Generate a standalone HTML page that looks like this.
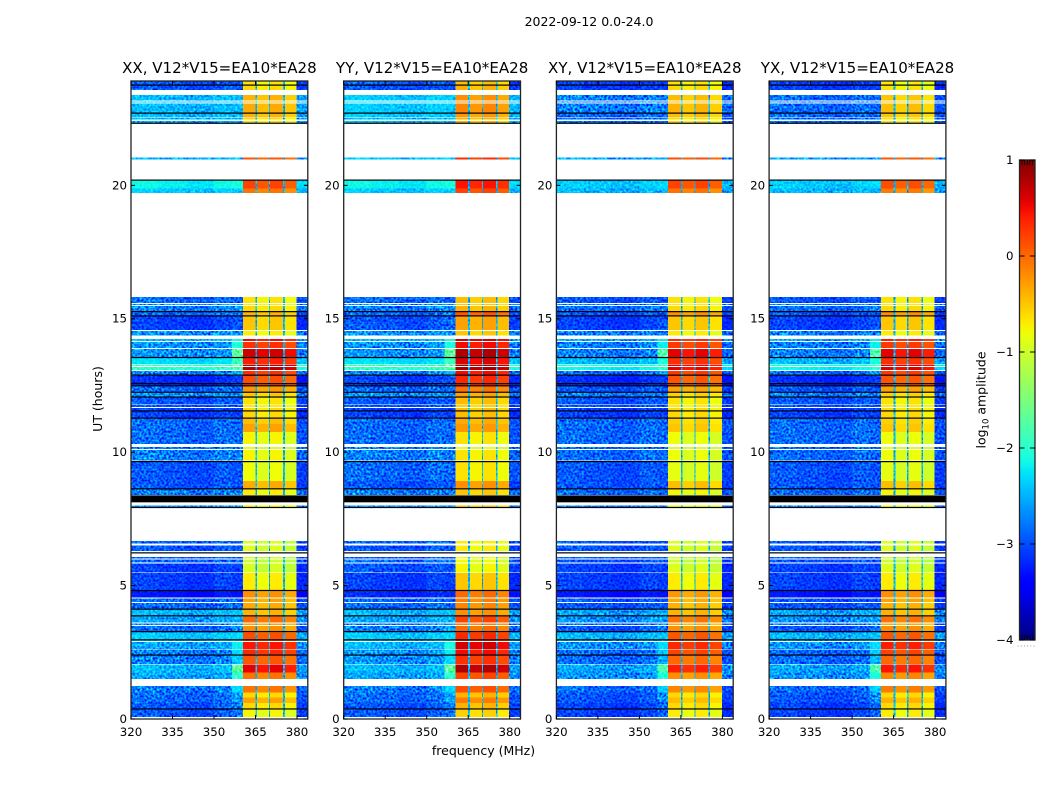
<!DOCTYPE html>
<html lang="en">
<head>
<meta charset="utf-8">
<title>Dynamic spectra 2022-09-12</title>
<style>
html,body{margin:0;padding:0;background:#fff;}
svg{display:block;}
text{font-family:"DejaVu Sans","Liberation Sans",sans-serif;fill:#000;}
</style>
</head>
<body>
<svg id="chart" xmlns="http://www.w3.org/2000/svg" width="1050" height="800" viewBox="0 0 1050 800">
  <defs>
    <filter id="speckle" filterUnits="userSpaceOnUse" x="0" y="0" width="1050" height="800" color-interpolation-filters="sRGB">
      <feTurbulence type="fractalNoise" baseFrequency="0.45" numOctaves="1" seed="7" result="n"/>
      <feColorMatrix in="n" type="matrix" values="2.2 0 0 0 -0.58  2.2 0 0 0 -0.58  2.2 0 0 0 -0.58  0 0 0 0 1" result="g"/>
      <feComposite in="g" in2="SourceAlpha" operator="in" result="gm"/>
      <feBlend in="gm" in2="SourceGraphic" mode="overlay"/>
    </filter>
    <linearGradient id="jet-gradient" x1="0" y1="1" x2="0" y2="0"></linearGradient>
  </defs>
  <text x="589" y="26" font-size="12.5" text-anchor="middle">2022-09-12 0.0-24.0</text>
  <text transform="translate(102,399) rotate(-90)" font-size="12.5" text-anchor="middle">UT (hours)</text>
  <text x="483.5" y="755" font-size="12.5" text-anchor="middle">frequency (MHz)</text>
  <text transform="translate(985.5,400) rotate(-90)" font-size="12.5" text-anchor="middle">log<tspan font-size="8.5" dy="3">10</tspan><tspan dy="-3"> amplitude</tspan></text>
  <g id="panels"></g>
  <g id="colorbar"></g>
</svg>
<script>
// ---------- data ----------
const polarisations = ["XX", "YY", "XY", "YX"];
const baselineLabel = ", V12*V15=EA10*EA28";
const xTicks = [320, 335, 350, 365, 380];
const yTicks = [0, 5, 10, 15, 20];
const colorbarTicks = [-4, -3, -2, -1, 0, 1];

// frequency channels (MHz) and what kind of spectrum region each belongs to
const channelStart = [320, 330, 340, 350, 356.5, 360.4, 365.0, 365.6, 369.9, 370.3, 375.0, 375.6, 379.8];
const channelEnd   = [330, 340, 350, 356.5, 360.4, 365.0, 365.6, 369.9, 370.3, 375.0, 375.6, 379.8, 383.9];
const channelKind  = ["left", "left", "left", "left", "wedge", "band", "gap", "band", "gap", "band", "gap", "band", "right"];
const channelOffset = [0.05, 0, -0.05, 0.05, 0, 0, -2.5, -0.1, -2.5, 0, -2.5, -0.15, -0.1];

// time rows (UT hours); anything not covered stays white (no data)
const rowStart = [0.08,0.38,0.6,0.8,1.0,1.5,1.74,2.07,2.38,2.63,2.92,3.25,3.52,3.61,3.86,4.12,4.38,4.55,4.82,5.5,5.86,6.01,6.29,6.58,7.93,8.4,8.63,8.92,9.68,10.12,10.31,10.76,11.06,11.28,11.69,11.79,12.07,12.25,12.49,12.86,13.08,13.22,13.31,13.53,13.9,14.16,14.37,14.58,15.09,15.27,15.51,15.59,19.71,19.88,20.96,22.33,22.47,22.55,22.71,23.1,23.18,23.57,23.76];
const rowEnd   = [0.38,0.6,0.8,1.0,1.23,1.74,2.04,2.38,2.6,2.89,3.25,3.48,3.58,3.86,4.12,4.35,4.52,4.82,5.47,5.83,5.98,6.08,6.5,6.68,8.0,8.63,8.92,9.63,10.09,10.19,10.76,11.06,11.28,11.66,11.76,12.07,12.25,12.49,12.86,13.05,13.19,13.28,13.53,13.87,14.13,14.24,14.55,15.09,15.27,15.48,15.56,15.81,19.88,20.18,21.05,22.42,22.52,22.71,23.07,23.15,23.39,23.76,23.91];

// brightening of the 356-360 MHz shoulder relative to the continuum, per row
const shoulderLift = [0.2,0.2,0.3,0.3,0.5,0.6,0.8,0.4,0.5,0.4,0.1,0.2,0.2,0.1,0.1,0,0,0,0,0,0,0,0,0,0,0,0,0,0,0,0,0,0,0,0,0,0,0,0.1,0.3,0.2,0.2,0.4,1,0.6,0.4,0,0.1,0.1,0.1,0,0,0,0.1,0,0,0,0,0,0,0,0,0];

// log10 amplitude of continuum (320-356 MHz) per row
const continuumXX = [-3,-3,-2.9,-2.9,-2.8,-2.6,-2.5,-2.8,-2.8,-2.6,-2.4,-2.9,-2.8,-2.6,-2.5,-2.9,-2.9,-3.3,-3.1,-3.1,-2.9,-3,-3,-2.9,-2.7,-2.8,-3,-3,-2.8,-2.8,-2.9,-2.9,-2.9,-3.1,-3,-3,-2.7,-2.9,-3.2,-2.8,-2,-1.9,-2.3,-2.7,-2.7,-2.5,-2.7,-3.1,-2.9,-2.8,-2.7,-2.9,-2.4,-2.2,-2.5,-2.6,-2.5,-2.5,-2.5,-2.4,-2.5,-3,-3];
const continuumYY = [-3,-3,-2.9,-2.9,-2.8,-2.6,-2.5,-2.7,-2.7,-2.5,-2.4,-2.8,-2.8,-2.6,-2.5,-2.9,-2.9,-3.2,-3.1,-3,-2.9,-3,-3,-2.9,-2.7,-2.8,-3,-2.9,-2.8,-2.8,-2.9,-2.9,-2.9,-3.1,-3,-3,-2.7,-2.9,-3.1,-2.8,-2,-1.9,-2.3,-2.7,-2.7,-2.5,-2.7,-3,-2.9,-2.8,-2.7,-2.9,-2.4,-2.2,-2.4,-2.5,-2.5,-2.4,-2.4,-2.3,-2.4,-3,-3];
const continuumXY = [-3.1,-3.1,-3,-3,-2.9,-2.7,-2.6,-2.9,-2.9,-2.7,-2.5,-3,-2.9,-2.7,-2.6,-3,-3,-3.3,-3.1,-3.1,-3,-3,-3,-3,-2.8,-2.9,-3,-3,-2.9,-2.9,-2.9,-2.9,-2.9,-3.1,-3,-3,-2.8,-3,-3.2,-2.9,-2.2,-2.1,-2.5,-2.8,-2.8,-2.6,-2.8,-3.1,-3,-2.9,-2.8,-3,-2.5,-2.4,-2.6,-2.9,-2.9,-2.9,-2.8,-2.8,-2.8,-3.1,-3.1];
const continuumYX = [-3.1,-3.1,-3,-3,-2.9,-2.7,-2.6,-2.9,-2.9,-2.7,-2.5,-3,-2.9,-2.7,-2.6,-3,-3,-3.3,-3.1,-3.1,-3,-3,-3,-3,-2.8,-2.9,-3,-3,-2.9,-2.9,-2.9,-2.9,-2.9,-3.1,-3,-3,-2.8,-3,-3.2,-2.9,-2.2,-2.1,-2.5,-2.8,-2.8,-2.6,-2.8,-3.1,-3,-2.9,-2.8,-3,-2.5,-2.4,-2.6,-2.9,-2.9,-2.9,-2.9,-2.8,-2.9,-3.1,-3.1];

// log10 amplitude of the bright spectral windows (360-380 MHz) per row
const bandXX = [-0.75,-0.6,-0.3,-0.6,-0.05,-0.05,0.55,0.1,0.35,0.45,0.15,-0.2,-0.3,0,-0.4,-0.35,-0.3,-0.2,-0.7,-0.95,-1,-1,-0.9,-0.9,-0.7,-0.7,-0.35,-0.8,-0.75,-0.9,-0.75,-0.3,-0.45,-0.6,-0.7,-0.65,-0.5,-0.25,0.15,0.3,0.75,0.8,0.4,0.65,0.3,0.5,-0.7,-0.5,-0.4,-0.6,-0.7,-0.65,-0.05,0.2,0.1,-0.6,-0.6,-0.4,-0.35,-0.4,-0.4,-0.6,-0.65];
const bandYY = [-0.55,-0.4,-0.1,-0.4,0.15,0.2,0.8,0.3,0.5,0.65,0.35,0,-0.1,0.2,-0.2,-0.15,-0.1,0,-0.5,-0.75,-0.8,-0.8,-0.7,-0.7,-0.5,-0.5,-0.2,-0.65,-0.65,-0.8,-0.65,-0.25,-0.35,-0.45,-0.55,-0.45,-0.3,-0.05,0.35,0.5,0.85,0.9,0.6,0.8,0.5,0.65,-0.5,-0.3,0.1,-0.4,-0.5,-0.45,0.2,0.45,0.3,-0.4,-0.4,-0.25,-0.15,-0.2,-0.2,-0.4,-0.45];
const bandXY = [-0.7,-0.6,-0.45,-0.6,-0.15,-0.2,0.4,0,0.2,0.35,0.1,-0.2,-0.35,-0.05,-0.4,-0.4,-0.35,-0.25,-0.7,-0.9,-1,-1,-0.9,-0.9,-0.75,-0.75,-0.45,-0.85,-0.8,-0.9,-0.8,-0.5,-0.55,-0.6,-0.7,-0.65,-0.55,-0.3,0.1,0.25,0.55,0.6,0.3,0.55,0.25,0.35,-0.7,-0.5,-0.2,-0.6,-0.7,-0.65,-0.05,0.2,0.15,-0.6,-0.6,-0.45,-0.4,-0.45,-0.45,-0.6,-0.65];
const bandYX = [-0.7,-0.6,-0.4,-0.6,-0.1,-0.15,0.45,0,0.2,0.4,0.1,-0.2,-0.35,-0.05,-0.4,-0.4,-0.3,-0.2,-0.7,-0.9,-1,-1,-0.9,-0.9,-0.75,-0.75,-0.45,-0.85,-0.8,-0.9,-0.8,-0.5,-0.55,-0.6,-0.7,-0.65,-0.55,-0.3,0.1,0.25,0.6,0.65,0.3,0.55,0.25,0.4,-0.7,-0.5,-0.2,-0.6,-0.7,-0.65,-0.1,0.15,0.1,-0.65,-0.65,-0.5,-0.45,-0.5,-0.5,-0.65,-0.7];

// fully flagged (black) integrations, UT hours
const flaggedHours = [0.38,2.4,2.97,3.28,3.87,4.12,4.82,6.23,7.93,8.63,9.65,11.28,11.55,12.07,12.25,12.49,12.57,12.89,13.55,15.11,15.27,20.2,22.33,22.71,23.76];
const flaggedBlockStart = [8.12];
const flaggedBlockEnd = [8.38];

const continuumByPol = {XX: continuumXX, YY: continuumYY, XY: continuumXY, YX: continuumYX};
const bandByPol = {XX: bandXX, YY: bandYY, XY: bandXY, YX: bandYX};

// ---------- axis functions ----------
const FREQ_MIN = 320, FREQ_MAX = 383.9, HOUR_MIN = 0, HOUR_MAX = 23.91;
const PLOT_TOP = 81, PLOT_BOTTOM = 719, PANEL_W = 176.8, PANEL_STEP = 212.7, PANEL_X0 = 131;
const CB_LEFT = 1019.5, CB_RIGHT = 1035, CB_TOP = 160, CB_BOTTOM = 640, LOG_MIN = -4, LOG_MAX = 1;

function panelLeft(i) { return PANEL_X0 + i * PANEL_STEP; }
function xScale(i, f) { return panelLeft(i) + (f - FREQ_MIN) / (FREQ_MAX - FREQ_MIN) * PANEL_W; }
function yScale(h) { return PLOT_BOTTOM - (h - HOUR_MIN) / (HOUR_MAX - HOUR_MIN) * (PLOT_BOTTOM - PLOT_TOP); }
function cbScale(v) { return CB_BOTTOM - (v - LOG_MIN) / (LOG_MAX - LOG_MIN) * (CB_BOTTOM - CB_TOP); }

function piecewise(t, xs, ys) {
  for (let k = 1; k < xs.length; k++) {
    if (t <= xs[k]) return ys[k - 1] + (t - xs[k - 1]) / (xs[k] - xs[k - 1]) * (ys[k] - ys[k - 1]);
  }
  return ys[ys.length - 1];
}
function jet(v) {
  const t = Math.max(0, Math.min(1, (v - LOG_MIN) / (LOG_MAX - LOG_MIN)));
  const r = piecewise(t, [0, 0.35, 0.66, 0.89, 1], [0, 0, 1, 1, 0.5]);
  const g = piecewise(t, [0, 0.125, 0.375, 0.64, 0.91, 1], [0, 0, 1, 1, 0, 0]);
  const b = piecewise(t, [0, 0.11, 0.34, 0.65, 1], [0.5, 1, 1, 0, 0]);
  return "rgb(" + Math.round(r * 255) + "," + Math.round(g * 255) + "," + Math.round(b * 255) + ")";
}

const NS = "http://www.w3.org/2000/svg";
function make(tag, parent, attrs) {
  const el = document.createElementNS(NS, tag);
  for (const k in attrs) el.setAttribute(k, attrs[k]);
  parent.appendChild(el);
  return el;
}

// ---------- panels ----------
const panelsRoot = document.getElementById("panels");
polarisations.forEach(function (pol, p) {
  const panel = make("g", panelsRoot, {});
  
  
  const left = panelLeft(p), right = left + PANEL_W;

  const noisy = make("g", panel, {filter: "url(#speckle)", "shape-rendering": "crispEdges"});
  
  
  const smooth = make("g", panel, {"shape-rendering": "crispEdges"});
  
  

  const cont = continuumByPol[pol], band = bandByPol[pol];
  rowStart.forEach(function (start, r) {
    channelKind.forEach(function (kind, c) {
      let value;
      if (kind === "band") value = band[r] + channelOffset[c];
      else if (kind === "gap") value = channelOffset[c];
      else if (kind === "wedge") value = cont[r] + shoulderLift[r] + channelOffset[c];
      else value = cont[r] + channelOffset[c];
      const x0 = xScale(p, channelStart[c]), x1 = xScale(p, channelEnd[c]);
      const y0 = yScale(rowEnd[r]), y1 = yScale(start);
      const cell = make("rect", kind === "band" ? smooth : noisy, {
        x: x0.toFixed(2), y: y0.toFixed(2),
        width: (x1 - x0).toFixed(2), height: (y1 - y0).toFixed(2),
        fill: jet(value)
      });
      
      
    });
  });

  flaggedHours.forEach(function (h) {
    const line = make("rect", panel, {x: left, y: (yScale(h) - 0.5).toFixed(2), width: PANEL_W, height: 1.2, fill: "#000"});
    
    
  });
  flaggedBlockStart.forEach(function (h, k) {
    const y0 = yScale(flaggedBlockEnd[k]), y1 = yScale(h);
    const block = make("rect", panel, {x: left, y: y0.toFixed(2), width: PANEL_W, height: (y1 - y0).toFixed(2), fill: "#000"});
    
    
  });

  const frame = make("rect", panel, {x: left, y: PLOT_TOP, width: PANEL_W, height: PLOT_BOTTOM - PLOT_TOP, fill: "none", stroke: "#222", "stroke-width": 1.3});
  
  

  const title = make("text", panel, {x: left + PANEL_W / 2, y: 73, "font-size": 15.05, "text-anchor": "middle"});
  title.textContent = pol + baselineLabel;
  
  

  xTicks.forEach(function (f) {
    const x = xScale(p, f);
    const t1 = make("line", panel, {x1: x, x2: x, y1: PLOT_BOTTOM, y2: PLOT_BOTTOM - 4, stroke: "#000", "stroke-width": 1});
    
    
    const t2 = make("line", panel, {x1: x, x2: x, y1: PLOT_TOP, y2: PLOT_TOP + 4, stroke: "#000", "stroke-width": 1});
    
    
    const lab = make("text", panel, {x: x, y: 736, "font-size": 11.8, "text-anchor": "middle"});
    lab.textContent = f;
    
    
  });
  yTicks.forEach(function (h) {
    const y = yScale(h);
    const t1 = make("line", panel, {x1: left, x2: left + 4, y1: y, y2: y, stroke: "#000", "stroke-width": 1});
    
    
    const t2 = make("line", panel, {x1: right, x2: right - 4, y1: y, y2: y, stroke: "#000", "stroke-width": 1});
    
    
    const lab = make("text", panel, {x: left - 4, y: y + 4, "font-size": 11.8, "text-anchor": "end"});
    lab.textContent = h;
    
    
  });
});

// ---------- colorbar ----------
const gradient = document.getElementById("jet-gradient");
for (let s = 0; s <= 60; s++) {
  make("stop", gradient, {offset: (s / 60).toFixed(4), "stop-color": jet(LOG_MIN + (LOG_MAX - LOG_MIN) * s / 60)});
}
const cbRoot = document.getElementById("colorbar");
const cbFill = make("rect", cbRoot, {x: CB_LEFT, y: CB_TOP, width: CB_RIGHT - CB_LEFT, height: CB_BOTTOM - CB_TOP, fill: "url(#jet-gradient)", stroke: "#222", "stroke-width": 1.3});


colorbarTicks.forEach(function (v) {
  const y = cbScale(v);
  const t1 = make("line", cbRoot, {x1: CB_LEFT, x2: CB_LEFT + 5, y1: y, y2: y, stroke: "#000", "stroke-width": 1});
  
  
  const t2 = make("line", cbRoot, {x1: CB_RIGHT, x2: CB_RIGHT - 5, y1: y, y2: y, stroke: "#000", "stroke-width": 1});
  
  
  const lab = make("text", cbRoot, {x: 1013.5, y: y + 4, "font-size": 11.8, "text-anchor": "end"});
  lab.textContent = String(v).replace("-", "\u2212");
  
  
});
for (let k = 1; k < 6; k++) {
  const x = CB_LEFT + (CB_RIGHT - CB_LEFT) * k / 6;
  const topTick = make("line", cbRoot, {x1: x, x2: x, y1: CB_TOP, y2: CB_TOP + 5, stroke: "#000", "stroke-width": 0.8});
  
  
  const botTick = make("line", cbRoot, {x1: x, x2: x, y1: CB_BOTTOM, y2: CB_BOTTOM - 5, stroke: "#000", "stroke-width": 0.8});
  
  
}
for (let k = 0; k < 6; k++) {
  const dot = make("rect", cbRoot, {x: CB_LEFT - 2 + k * 3.2, y: 645.5, width: 1, height: 1, fill: "#999"});
  
  
}
</script>
</body>
</html>
